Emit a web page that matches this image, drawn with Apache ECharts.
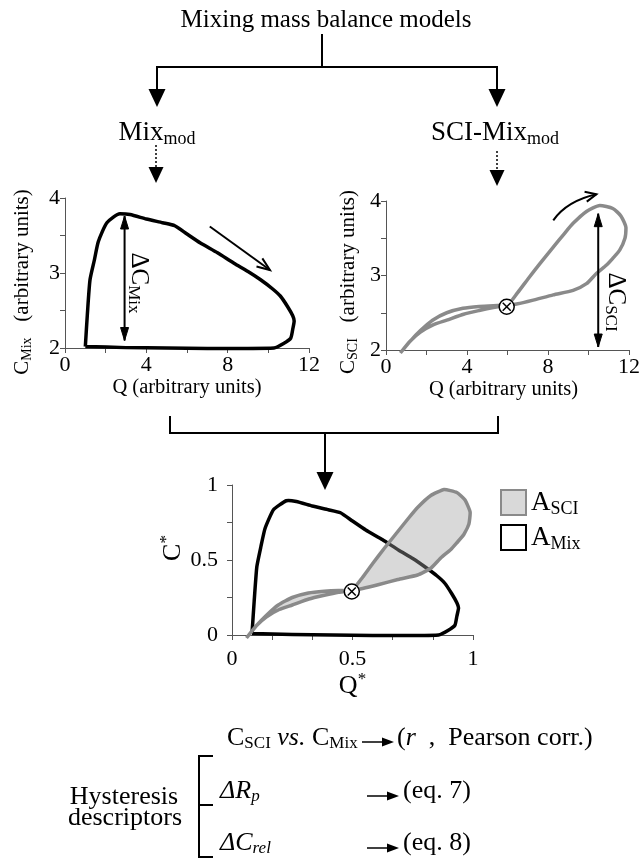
<!DOCTYPE html>
<html><head><meta charset="utf-8">
<script src="https://cdn.jsdelivr.net/npm/echarts@6/dist/echarts.min.js"></script>
<style>html,body{margin:0;padding:0;background:#fff}#c{width:643px;height:866px}</style>
</head><body><div id="c"></div><script>
const FONT = '"Liberation Serif","Times New Roman",serif';

// ---- Top-left panel: Mix_mod  (Q vs C_Mix) ----
const mixQ = [1.0, 1.1, 1.23, 1.45, 1.64, 2.06, 2.7, 3.2, 4.0, 4.8, 5.4, 6.0, 6.66, 7.5, 8.31, 9.0, 9.62, 10.2, 10.6, 10.95, 11.2, 11.27, 11.2, 11.1, 10.75, 10.28, 9.0, 7.0, 5.0, 3.0, 1.0];
const mixC = [2.02, 2.45, 2.91, 3.18, 3.42, 3.67, 3.79, 3.78, 3.72, 3.67, 3.63, 3.52, 3.40, 3.27, 3.13, 3.02, 2.91, 2.79, 2.69, 2.55, 2.43, 2.36, 2.25, 2.13, 2.06, 2.0, 1.995, 1.995, 2.0, 2.005, 2.02];

// ---- Top-right panel: SCI-Mix_mod (Q vs C_SCI) ----
const sciQ = [0.71, 1.2, 1.7, 2.3, 3.0, 3.8, 4.6, 5.3, 5.96, 6.5, 7.0, 7.6, 8.26, 8.8, 9.24, 9.9, 10.56, 11.2, 11.6, 11.85, 11.8, 11.54, 11.2, 10.89, 10.4, 9.9, 9.24, 8.26, 7.27, 6.5, 5.96, 5.3, 4.6, 3.83, 3.0, 2.35, 1.7, 1.2, 0.71];
const sciC = [1.96, 2.12, 2.26, 2.40, 2.50, 2.56, 2.585, 2.595, 2.60, 2.77, 2.95, 3.16, 3.38, 3.56, 3.70, 3.86, 3.94, 3.90, 3.80, 3.64, 3.50, 3.34, 3.23, 3.14, 3.03, 2.89, 2.80, 2.74, 2.67, 2.62, 2.60, 2.57, 2.53, 2.48, 2.40, 2.34, 2.24, 2.12, 1.96];
const sciCross = [5.96, 2.58];

// ---- Bottom panel: normalised Q* vs C* ----
const mixQn = [0.083, 0.092, 0.103, 0.12, 0.137, 0.172, 0.225, 0.267, 0.333, 0.40, 0.45, 0.50, 0.555, 0.625, 0.692, 0.75, 0.80, 0.85, 0.883, 0.912, 0.933, 0.94, 0.933, 0.925, 0.896, 0.857, 0.75, 0.583, 0.417, 0.25, 0.083];
const mixCn = [0.01, 0.225, 0.455, 0.59, 0.71, 0.835, 0.895, 0.89, 0.86, 0.835, 0.815, 0.76, 0.70, 0.635, 0.565, 0.51, 0.455, 0.395, 0.345, 0.275, 0.215, 0.18, 0.125, 0.065, 0.03, 0.0, -0.003, -0.003, 0.0, 0.003, 0.01];
const sciQn = [0.06, 0.1, 0.142, 0.192, 0.25, 0.317, 0.383, 0.442, 0.497, 0.542, 0.583, 0.633, 0.688, 0.733, 0.77, 0.825, 0.88, 0.933, 0.967, 0.988, 0.983, 0.962, 0.933, 0.908, 0.867, 0.825, 0.77, 0.688, 0.606, 0.542, 0.497, 0.442, 0.383, 0.319, 0.25, 0.196, 0.142, 0.1, 0.06];
const sciCn = [-0.02, 0.06, 0.13, 0.2, 0.25, 0.28, 0.292, 0.297, 0.297, 0.385, 0.475, 0.58, 0.69, 0.78, 0.85, 0.93, 0.97, 0.95, 0.9, 0.82, 0.74, 0.67, 0.615, 0.57, 0.515, 0.445, 0.4, 0.37, 0.335, 0.31, 0.297, 0.285, 0.265, 0.24, 0.2, 0.17, 0.12, 0.06, -0.02];
const normCross = [0.497, 0.29];

// ---- axis ranges / tick labels ----
const topQRange = [0, 12, 4];     // min, max, labelled step
const topCRange = [2, 4, 1];
const normRange = [0, 1, 0.5];

// ---- in-panel annotations (data coordinates) ----
const mixFlowArrow = [7.12, 3.62, 10.08, 3.04];          // x1,y1,x2,y2
const mixDelta = [2.93, 3.76, 2.10];                      // x, yTop, yBottom
const sciFlowArrow = [8.26, 3.74, 8.93, 4.0, 10.39, 4.09]; // start, control, end
const sciDelta = [10.48, 3.83, 2.04];

const chart = echarts.init(document.getElementById('c'));

function vHead(tip, from, len, hw) {
  const dx = tip[0] - from[0], dy = tip[1] - from[1];
  const d = Math.hypot(dx, dy), ux = dx / d, uy = dy / d;
  const bx = tip[0] - ux * len, by = tip[1] - uy * len;
  return [[bx - uy * hw, by + ux * hw], tip, [bx + uy * hw, by - ux * hw]];
}
const AX = '#555';
function valueAxis(gi, r, minorSplit, opts) {
  return Object.assign({
    type: 'value', gridIndex: gi, min: r[0], max: r[1], interval: r[2],
    axisLine: { show: true, onZero: false, lineStyle: { color: AX, width: 1 } },
    axisTick: { show: true, length: 5, lineStyle: { color: AX, width: 1 } },
    minorTick: { show: true, splitNumber: minorSplit, length: 5, lineStyle: { color: AX, width: 1 } },
    splitLine: { show: false }, minorSplitLine: { show: false },
    axisLabel: { fontSize: 22, fontFamily: FONT, color: '#000', margin: 6 },
    nameLocation: 'middle'
  }, opts);
}
const subRich = (m, s, pad) => ({
  m: { fontSize: m, fontFamily: FONT, color: '#000' },
  s: { fontSize: s, fontFamily: FONT, color: '#000', padding: [pad, 0, 0, 0] },
  i: { fontSize: m, fontFamily: FONT, color: '#000', fontStyle: 'italic' },
  is: { fontSize: s, fontFamily: FONT, color: '#000', fontStyle: 'italic', padding: [pad, 0, 0, 0] },
  sup: { fontSize: s, fontFamily: FONT, color: '#000', padding: [0, 0, pad, 0] }
});
function nameStyle(size, pad, extra) {
  return Object.assign({ fontFamily: FONT, fontSize: size, color: '#000', align: 'center', verticalAlign: 'middle', rich: subRich(size, 14, 10) }, extra || {});
}

const LINE = (x1, y1, x2, y2, w, dash) => ({ type: 'line', silent: true, shape: { x1, y1, x2, y2 }, style: { stroke: '#000', lineWidth: w || 2, lineDash: dash || null } });
const TRI_DOWN = (x, yTop, h, hw) => ({ type: 'polygon', silent: true, shape: { points: [[x - hw, yTop], [x + hw, yTop], [x, yTop + h]] }, style: { fill: '#000' } });
const TRI_RIGHT = (xl, y, w, hw) => ({ type: 'polygon', silent: true, shape: { points: [[xl, y - hw], [xl + w, y], [xl, y + hw]] }, style: { fill: '#000' } });
const TXT = (x, y, text, size, sub, pad, extra) => ({ type: 'text', x, y, silent: true, style: Object.assign({ text, fontFamily: FONT, fontSize: size, fill: '#000', align: 'center', verticalAlign: 'middle', rich: subRich(size, sub || 17, pad || 12) }, extra || {}) });

function crossMarker(p, api) {
  const c = api.coord([api.value(0), api.value(1)]), r = 7.5, k = 4;
  return { type: 'group', children: [
    { type: 'circle', shape: { cx: c[0], cy: c[1], r }, style: { fill: '#fff', stroke: '#000', lineWidth: 1.5 } },
    { type: 'line', shape: { x1: c[0] - k, y1: c[1] - k, x2: c[0] + k, y2: c[1] + k }, style: { stroke: '#000', lineWidth: 1.5 } },
    { type: 'line', shape: { x1: c[0] - k, y1: c[1] + k, x2: c[0] + k, y2: c[1] - k }, style: { stroke: '#000', lineWidth: 1.5 } }
  ] };
}
function doubleArrow(api, d) {
  const t = api.coord([d[0], d[1]]), b = api.coord([d[0], d[2]]);
  return [
    { type: 'line', shape: { x1: t[0], y1: t[1], x2: b[0], y2: b[1] }, style: { stroke: '#000', lineWidth: 2 } },
    { type: 'polygon', shape: { points: vHead(t, b, 13, 4) }, style: { fill: '#000', stroke: '#000', lineWidth: 1 } },
    { type: 'polygon', shape: { points: vHead(b, t, 13, 4) }, style: { fill: '#000', stroke: '#000', lineWidth: 1 } }
  ];
}

const option = {
  animation: false,
  backgroundColor: '#fff',
  grid: [
    { left: 65, top: 198, width: 244, height: 150 },
    { left: 386, top: 201, width: 243, height: 149 },
    { left: 232, top: 485, width: 241, height: 150 }
  ],
  xAxis: [
    valueAxis(0, topQRange, 2, { name: 'Q (arbitrary units)', nameGap: 40, nameTextStyle: nameStyle(20.5) }),
    valueAxis(1, topQRange, 2, { name: 'Q (arbitrary units)', nameGap: 40, nameTextStyle: nameStyle(20.5, 0, { padding: [0, 8, 0, 0] }) }),
    valueAxis(2, normRange, 3, { name: '{m|Q}{sup|*}', nameGap: 44, nameTextStyle: { fontFamily: FONT, fontSize: 26, color: '#000', align: 'center', verticalAlign: 'middle', rich: { m: { fontSize: 26, fontFamily: FONT, color: '#000' }, sup: { fontSize: 17, fontFamily: FONT, color: '#000', padding: [0, 0, 14, 0] } } }, axisLabel: { fontSize: 22, fontFamily: FONT, color: '#000', margin: 13 } })
  ],
  yAxis: [
    valueAxis(0, topCRange, 2, { name: '{m|C}{s|Mix}{m|   (arbitrary units)}', nameRotate: 90, nameGap: 43, nameTextStyle: nameStyle(21, 0, { padding: [0, 18, 0, 0] }), axisLabel: { fontSize: 22, fontFamily: FONT, color: '#000', margin: 5 } }),
    valueAxis(1, topCRange, 2, { name: '{m|C}{s|SCI}{m|   (arbitrary units)}', nameRotate: 90, nameGap: 38, nameTextStyle: nameStyle(21, 0, { padding: [0, 13, 0, 0] }), axisLabel: { fontSize: 22, fontFamily: FONT, color: '#000', margin: 5 } }),
    valueAxis(2, normRange, 2, { name: '{m|C}{sup|*}', nameRotate: 90, nameGap: 56, nameTextStyle: { fontFamily: FONT, fontSize: 26, color: '#000', align: 'center', verticalAlign: 'middle', padding: [0, 0, 0, 24], rich: { m: { fontSize: 26, fontFamily: FONT, color: '#000' }, sup: { fontSize: 17, fontFamily: FONT, color: '#000', padding: [0, 0, 14, 0] } } }, axisLabel: { fontSize: 22, fontFamily: FONT, color: '#000', margin: 14 } })
  ],
  legend: {
    orient: 'vertical', left: 500, top: 489, padding: 0, itemWidth: 25, itemHeight: 25, itemGap: 6, selectedMode: false,
    data: [
      { name: 'A_SCI', icon: 'rect', itemStyle: { color: '#d9d9d9', borderColor: '#8a8a8a', borderWidth: 2 } },
      { name: 'A_Mix', icon: 'rect', itemStyle: { color: '#fff', borderColor: '#000', borderWidth: 2 } }
    ],
    formatter: n => n === 'A_SCI' ? '{m|A}{s|SCI}' : '{m|A}{s|Mix}',
    textStyle: { fontFamily: FONT, color: '#000', rich: subRich(27, 18, 13) }
  },
  series: [
    { name: 'C_Mix', type: 'line', xAxisIndex: 0, yAxisIndex: 0, data: mixQ.map((q, i) => [q, mixC[i]]), showSymbol: false, symbol: 'none', smooth: 0.2, clip: false, z: 2,
      lineStyle: { color: '#000', width: 3.5, join: 'round' }, itemStyle: { color: '#000' } },
    { type: 'custom', xAxisIndex: 0, yAxisIndex: 0, data: [[mixDelta[0], mixDelta[1]]], silent: true, z: 4,
      renderItem: (p, api) => {
        const a = api.coord([mixFlowArrow[0], mixFlowArrow[1]]), b = api.coord([mixFlowArrow[2], mixFlowArrow[3]]);
        return { type: 'group', children: [
          { type: 'line', shape: { x1: a[0], y1: a[1], x2: b[0], y2: b[1] }, style: { stroke: '#000', lineWidth: 2 } },
          { type: 'polyline', shape: { points: vHead(b, a, 13, 5) }, style: { stroke: '#000', lineWidth: 2, fill: null } }
        ].concat(doubleArrow(api, mixDelta)) };
      } },
    { name: 'C_SCI', type: 'line', xAxisIndex: 1, yAxisIndex: 1, data: sciQ.map((q, i) => [q, sciC[i]]), showSymbol: false, symbol: 'none', smooth: 0.2, clip: false, z: 2,
      lineStyle: { color: '#8a8a8a', width: 3.5, join: 'round' }, itemStyle: { color: '#8a8a8a' } },
    { type: 'custom', xAxisIndex: 1, yAxisIndex: 1, data: [sciCross], silent: true, z: 5, renderItem: crossMarker },
    { type: 'custom', xAxisIndex: 1, yAxisIndex: 1, data: [[sciDelta[0], sciDelta[1]]], silent: true, z: 4,
      renderItem: (p, api) => {
        const s = api.coord([sciFlowArrow[0], sciFlowArrow[1]]), c = api.coord([sciFlowArrow[2], sciFlowArrow[3]]), e = api.coord([sciFlowArrow[4], sciFlowArrow[5]]);
        return { type: 'group', children: [
          { type: 'bezierCurve', shape: { x1: s[0], y1: s[1], cpx1: c[0], cpy1: c[1], x2: e[0], y2: e[1] }, style: { stroke: '#000', lineWidth: 2, fill: null } },
          { type: 'polyline', shape: { points: vHead(e, c, 11, 5) }, style: { stroke: '#000', lineWidth: 2, fill: null } }
        ].concat(doubleArrow(api, sciDelta)) };
      } },
    { name: 'A_Mix', type: 'custom', xAxisIndex: 2, yAxisIndex: 2, data: [[mixQn[0], mixCn[0]]], silent: true, z: 2, itemStyle: { color: '#fff', borderColor: '#000' },
      renderItem: (p, api) => ({ type: 'polyline', shape: { points: mixQn.map((q, i) => api.coord([q, mixCn[i]])), smooth: 0.15 }, style: { stroke: '#000', lineWidth: 3.5, fill: null, lineJoin: 'round' } }) },
    { name: 'A_SCI', type: 'custom', xAxisIndex: 2, yAxisIndex: 2, data: [[sciQn[0], sciCn[0]]], silent: true, z: 3, itemStyle: { color: '#d9d9d9', borderColor: '#8a8a8a' },
      renderItem: (p, api) => {
        const pts = sciQn.map((q, i) => api.coord([q, sciCn[i]]));
        return { type: 'group', children: [
          { type: 'polygon', shape: { points: pts, smooth: 0.15 }, style: { fill: 'rgba(160,160,160,0.4)', stroke: null } },
          { type: 'polyline', shape: { points: pts, smooth: 0.15 }, style: { stroke: '#8a8a8a', lineWidth: 3.5, fill: null, lineJoin: 'round' } }
        ] };
      } },
    { type: 'custom', xAxisIndex: 2, yAxisIndex: 2, data: [normCross], silent: true, z: 5, renderItem: crossMarker }
  ],
  graphic: [
    TXT(326, 20, 'Mixing mass balance models', 25),
    LINE(322, 34, 322, 67), LINE(156, 67, 498, 67),
    LINE(157, 66, 157, 92), LINE(497, 66, 497, 92),
    TRI_DOWN(157, 89, 18, 8.5), TRI_DOWN(497, 89, 18, 8.5),
    TXT(157, 133, '{m|Mix}{s|mod}', 27, 18, 12),
    LINE(156, 145, 156, 168, 1.5, [2, 2]), TRI_DOWN(156, 167, 16, 7.5),
    TXT(495, 133, '{m|SCI-Mix}{s|mod}', 27, 18, 12),
    LINE(497, 151, 497, 171, 1.5, [2, 2]), TRI_DOWN(497, 170, 16, 7.5),
    // delta labels
    { type: 'text', x: 139, y: 283, rotation: -Math.PI / 2, silent: true, style: { text: '{m|ΔC}{s|Mix}', align: 'center', verticalAlign: 'middle', rich: subRich(25, 17, 12) } },
    { type: 'text', x: 616, y: 302, rotation: -Math.PI / 2, silent: true, style: { text: '{m|ΔC}{s|SCI}', align: 'center', verticalAlign: 'middle', rich: subRich(25, 17, 12) } },
    // connector to bottom panel
    LINE(170, 416, 170, 434), LINE(498, 416, 498, 434), LINE(169, 433, 499, 433),
    LINE(325, 433, 325, 474), TRI_DOWN(325, 472, 18, 8.5),
    // descriptors block
    TXT(124, 797, 'Hysteresis', 26), TXT(125, 818, 'descriptors', 26),
    LINE(199, 755, 199, 858), LINE(198, 756, 213, 756), LINE(199, 805, 213, 805), LINE(198, 857, 213, 857),
    TXT(227, 738, '{m|C}{s|SCI}{m| }{i|vs.}{m| C}{s|Mix}', 26, 17, 12, { align: 'left' }),
    LINE(362, 742, 385, 742, 1.5), TRI_RIGHT(382, 742, 12, 4.5),
    TXT(397, 738, '{m|(}{i|r}{m|  ,  Pearson corr.)}', 26, 17, 12, { align: 'left' }),
    TXT(220, 791, '{i|ΔR}{is|p}', 26, 17, 12, { align: 'left' }),
    LINE(367, 796, 390, 796, 1.5), TRI_RIGHT(387, 796, 12, 4.5),
    TXT(403, 791, '(eq. 7)', 26, 17, 12, { align: 'left' }),
    TXT(220, 843, '{i|ΔC}{is|rel}', 26, 17, 12, { align: 'left' }),
    LINE(367, 848, 390, 848, 1.5), TRI_RIGHT(387, 848, 12, 4.5),
    TXT(403, 843, '(eq. 8)', 26, 17, 12, { align: 'left' })
  ]
};
chart.setOption(option);
</script></body></html>
